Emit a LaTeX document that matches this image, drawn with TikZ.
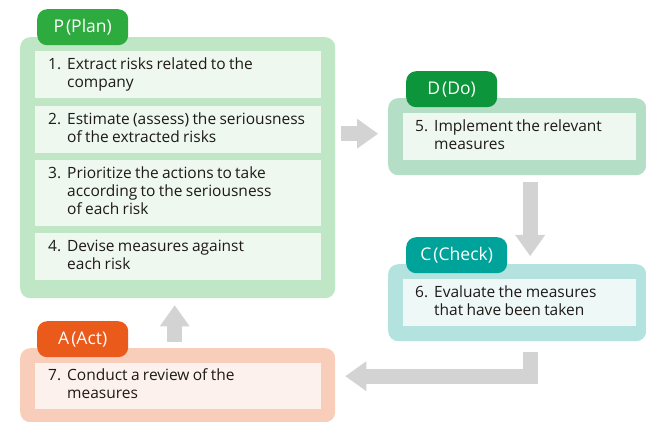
\documentclass[tikz,border=0pt]{standalone}
\usepackage{fontspec}
\setmainfont{Open Sans}
\usepackage{xcolor}
\usetikzlibrary{positioning, arrows.meta}

\definecolor{planout}{HTML}{BFE6C5}
\definecolor{plantab}{HTML}{2DAB3F}
\definecolor{planin}{HTML}{EEF8EF}
\definecolor{doout}{HTML}{B4DEC5}
\definecolor{dotab}{HTML}{0C953A}
\definecolor{doin}{HTML}{EEF8F1}
\definecolor{chkout}{HTML}{B3E2DF}
\definecolor{chktab}{HTML}{00A39A}
\definecolor{chkin}{HTML}{EEF8F7}
\definecolor{actout}{HTML}{F8CDB9}
\definecolor{acttab}{HTML}{EA5A1B}
\definecolor{actin}{HTML}{FCF1EC}
\definecolor{flowgray}{HTML}{D3D3D3}
\definecolor{txt}{HTML}{1E1A18}

% numbered text with hanging second line
\newcommand{\steptext}[2]{\fontsize{15.5}{18}\selectfont
  \begin{tabular}{@{}l@{\hspace{6pt}}l@{}}#1 & #2\end{tabular}}

\tikzset{
  outerbox/.style={rounded corners=10pt, anchor=north west, inner sep=0pt},
  tabbox/.style={rounded corners=10pt, anchor=north west, minimum height=36pt,
    inner sep=0pt, text=white, font=\fontsize{17.5}{20}\selectfont},
  itembox/.style={anchor=north west, inner xsep=13pt, inner ysep=0pt,
    align=left, text=txt},
  flow/.style={line width=15pt, draw=flowgray,
    -{Triangle[width=30pt, length=21pt, line width=0pt]}}
}

\begin{document}
\begin{tikzpicture}[x=1pt, y=-1pt]
  \useasboundingbox (0,0) rectangle (646,422);

  % Plan
  \node[outerbox, fill=planout, minimum width=315pt, minimum height=261pt] (P) at (20,37) {};
  \node[tabbox, fill=plantab, minimum width=91pt] (Ptab) at (37,9) {P\hspace{2pt}(Plan)};
  \node[itembox, fill=planin, text width=260pt, minimum height=47pt] (p1) at (35,51)
    {\steptext{1.}{Extract risks related to the\\ & company}};
  \node[itembox, fill=planin, text width=260pt, minimum height=47pt] (p2) at (35,106)
    {\steptext{2.}{Estimate (assess) the seriousness\\ & of the extracted risks}};
  \node[itembox, fill=planin, text width=260pt, minimum height=66pt] (p3) at (35,160)
    {\steptext{3.}{Prioritize the actions to take\\ & according to the seriousness\\ & of each risk}};
  \node[itembox, fill=planin, text width=260pt, minimum height=47pt] (p4) at (35,233)
    {\steptext{4.}{Devise measures against\\ & each risk}};

  % Do
  \node[outerbox, fill=doout, minimum width=258pt, minimum height=77pt] (D) at (388,98) {};
  \node[tabbox, fill=dotab, minimum width=91pt] (Dtab) at (406,71) {D\hspace{2pt}(Do)};
  \node[itembox, fill=doin, inner xsep=12pt, text width=209pt, minimum height=47pt] (d1) at (403,113)
    {\steptext{5.}{Implement the relevant\\ & measures}};

  % Check
  \node[outerbox, fill=chkout, minimum width=258pt, minimum height=77pt] (C) at (388,264) {};
  \node[tabbox, fill=chktab, minimum width=101pt] (Ctab) at (406,237) {C\hspace{2pt}(Check)};
  \node[itembox, fill=chkin, inner xsep=12pt, text width=209pt, minimum height=47pt] (c1) at (403,279)
    {\steptext{6.}{Evaluate the measures\\ & that have been taken}};

  % Act
  \node[outerbox, fill=actout, minimum width=315pt, minimum height=74pt] (A) at (20,348) {};
  \node[tabbox, fill=acttab, minimum width=91pt] (Atab) at (37,321) {A\hspace{2pt}(Act)};
  \node[itembox, fill=actin, text width=260pt, minimum height=46pt] (a1) at (35,363)
    {\steptext{7.}{Conduct a review of the\\ & measures}};

  % cycle arrows
  \draw[flow, shorten <=6pt, shorten >=10pt] ([yshift=3pt]P.east |- D.west) -- ([yshift=3pt]D.west);
  \draw[flow, shorten <=7pt, shorten >=8pt] ([xshift=13pt]D.south) -- ([xshift=13pt]D.south |- C.north);
  \draw[flow, shorten <=11pt, shorten >=10pt] ([xshift=13pt]C.south) |- ([yshift=9pt]A.east);
  \draw[flow, shorten <=6pt, shorten >=7pt] ([xshift=-3pt]A.north) -- ([xshift=-3pt]A.north |- P.south);
\end{tikzpicture}
\end{document}
